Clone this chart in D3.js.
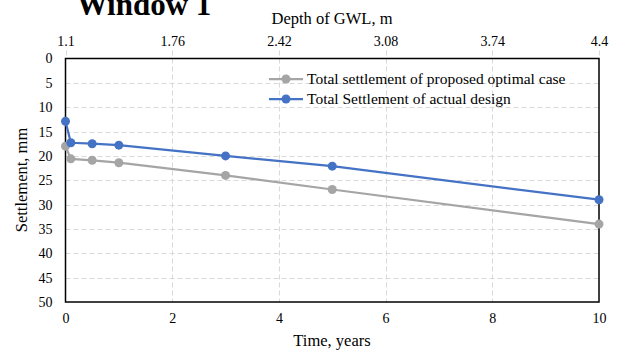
<!DOCTYPE html>
<html>
<head>
<meta charset="utf-8">
<script src="https://cdn.jsdelivr.net/npm/d3@7"></script>
<style>
  html, body { margin: 0; padding: 0; background: #fff; overflow: hidden; }
  svg { display: block; }
  svg text { font-family: "Liberation Serif", "Times New Roman", serif; }
</style>
</head>
<body>
<div id="chart"></div>
<script>
// Data
const timeYears = [0, 0.1, 0.5, 1, 3, 5, 10];
const optimalSettlement = [18, 20.6, 20.9, 21.4, 24, 26.9, 34];
const actualSettlement = [12.9, 17.3, 17.5, 17.8, 20, 22.1, 29];
const bottomTicks = [0, 2, 4, 6, 8, 10];
const topTicks = [1.1, 1.76, 2.42, 3.08, 3.74, 4.4];
const yTicks = [0, 5, 10, 15, 20, 25, 30, 35, 40, 45, 50];
const seriesNames = ['Total settlement of proposed optimal case', 'Total Settlement of actual design'];
const seriesColors = ['#A5A5A5', '#4472C4'];

const W = 619, H = 351;
const margin = { top: 58.5, right: 20, bottom: 49, left: 65.5 };
const plotW = 599 - margin.left;
const plotH = 302 - margin.top;

const svg = d3.select('#chart').append('svg')
  .attr('width', W)
  .attr('height', H);

const x = d3.scaleLinear().domain([0, 10]).range([margin.left, margin.left + plotW]);
const xTop = d3.scaleLinear().domain([1.1, 4.4]).range([margin.left, margin.left + plotW]);
const y = d3.scaleLinear().domain([0, 50]).range([margin.top, margin.top + plotH]);

// Gridlines
const grid = svg.append('g').attr('stroke', '#D9D9D9').attr('stroke-width', 1).attr('stroke-dasharray', '5,3');
yTicks.slice(1, -1).forEach(t => {
  grid.append('line')
    .attr('x1', margin.left).attr('x2', margin.left + plotW)
    .attr('y1', Math.round(y(t)) + 0.5).attr('y2', Math.round(y(t)) + 0.5);
});
bottomTicks.slice(1, -1).forEach(t => {
  grid.append('line')
    .attr('x1', Math.round(x(t)) + 0.5).attr('x2', Math.round(x(t)) + 0.5)
    .attr('y1', margin.top - 8).attr('y2', margin.top + plotH);
});
// short stubs above the box for the end ticks of the top axis
[topTicks[0], topTicks[topTicks.length - 1]].forEach(t => {
  grid.append('line')
    .attr('x1', Math.round(xTop(t)) + 0.5).attr('x2', Math.round(xTop(t)) + 0.5)
    .attr('y1', margin.top - 8).attr('y2', margin.top);
});

// Plot border
svg.append('rect')
  .attr('x', margin.left).attr('y', margin.top)
  .attr('width', plotW).attr('height', plotH)
  .attr('fill', 'none')
  .attr('stroke', '#000')
  .attr('stroke-width', 1.5);

// Axes (labels only, as in the Excel style)
const axisFont = 14;
function styleAxis(g) {
  g.attr('font-family', null).attr('font-size', null);
  g.select('.domain').remove();
  g.selectAll('text')
    .style('font-family', '"Liberation Serif", "Times New Roman", serif')
    .style('font-size', axisFont + 'px')
    .attr('fill', '#000');
}

const yAxis = d3.axisLeft(y).tickValues(yTicks).tickSize(0).tickPadding(13);
svg.append('g').attr('transform', `translate(${margin.left},0)`).call(yAxis).call(styleAxis);

const xAxis = d3.axisBottom(x).tickValues(bottomTicks).tickSize(0).tickPadding(11);
svg.append('g').attr('transform', `translate(0,${margin.top + plotH})`).call(xAxis).call(styleAxis);

const xTopAxis = d3.axisTop(xTop).tickValues(topTicks).tickSize(0).tickPadding(13)
  .tickFormat(d => String(+d.toFixed(2)));
svg.append('g').attr('transform', `translate(0,${margin.top})`).call(xTopAxis).call(styleAxis);

// Series
const series = [optimalSettlement, actualSettlement];
const line = d3.line().x((d, i) => x(timeYears[i])).y(d => y(d));
series.forEach((vals, si) => {
  svg.append('path')
    .datum(vals)
    .attr('d', line)
    .attr('fill', 'none')
    .attr('stroke', seriesColors[si])
    .attr('stroke-width', 2.25);
  svg.append('g').selectAll('circle')
    .data(vals)
    .join('circle')
    .attr('cx', (d, i) => x(timeYears[i]))
    .attr('cy', d => y(d))
    .attr('r', 4.5)
    .attr('fill', seriesColors[si]);
});

// Legend
const legend = svg.append('g');
seriesNames.forEach((name, i) => {
  const ly = 79 + i * 20;
  legend.append('line')
    .attr('x1', 269).attr('x2', 303)
    .attr('y1', ly).attr('y2', ly)
    .attr('stroke', seriesColors[i]).attr('stroke-width', 2.25);
  legend.append('circle')
    .attr('cx', 286).attr('cy', ly).attr('r', 4.5)
    .attr('fill', seriesColors[i]);
  legend.append('text')
    .attr('x', 307).attr('y', ly + 5)
    .style('font-size', '15.5px')
    .attr('fill', '#000')
    .text(name);
});

// Titles
svg.append('text')
  .attr('x', 144).attr('y', 15)
  .attr('text-anchor', 'middle')
  .style('font-size', '31px')
  .style('font-weight', 'bold')
  .text('Window 1');

svg.append('text')
  .attr('x', 332).attr('y', 24)
  .attr('text-anchor', 'middle')
  .style('font-size', '16.5px')
  .text('Depth of GWL, m');

svg.append('text')
  .attr('x', 332).attr('y', 346)
  .attr('text-anchor', 'middle')
  .style('font-size', '16.5px')
  .text('Time, years');

svg.append('text')
  .attr('transform', 'translate(27,180) rotate(-90)')
  .attr('text-anchor', 'middle')
  .style('font-size', '16.5px')
  .text('Settlement, mm');
</script>
</body>
</html>
